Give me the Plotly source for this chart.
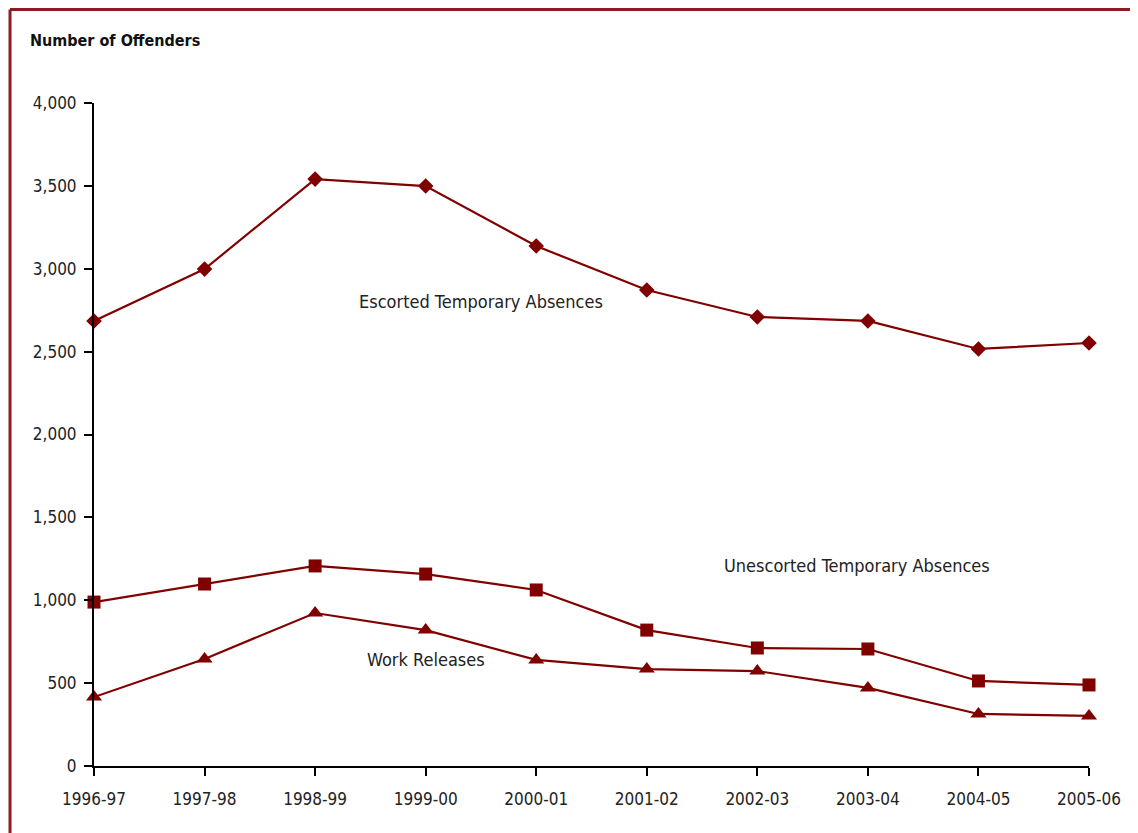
import plotly.graph_objects as go

years = ["1996-97", "1997-98", "1998-99", "1999-00", "2000-01",
         "2001-02", "2002-03", "2003-04", "2004-05", "2005-06"]
escorted = [2685, 2998, 3541, 3499, 3137, 2872, 2709, 2685, 2516, 2552]
unescorted = [989, 1098, 1207, 1158, 1062, 820, 712, 706, 513, 489]
work_releases = [416, 646, 923, 820, 640, 585, 573, 471, 314, 302]

FONT = "Liberation Sans Narrow, Arial Narrow, DejaVu Sans Condensed, sans-serif"
RED = "#800000"

fig = go.Figure()
for name, vals, sym, size in [
    ("Escorted Temporary Absences", escorted, "diamond", 12),
    ("Unescorted Temporary Absences", unescorted, "square", 13),
    ("Work Releases", work_releases, "triangle-up", 14),
]:
    fig.add_trace(go.Scatter(
        x=list(range(len(years))), y=vals, name=name, mode="lines+markers",
        line=dict(color=RED, width=2.2),
        marker=dict(symbol=sym, size=size, color=RED),
        cliponaxis=False, showlegend=False,
    ))

fig.add_annotation(x=3.5, y=2800, text="Escorted Temporary Absences", showarrow=False,
                   font=dict(family=FONT, size=18, color="#222"))
fig.add_annotation(x=6.9, y=1210, text="Unescorted Temporary Absences", showarrow=False,
                   font=dict(family=FONT, size=18, color="#222"))
fig.add_annotation(x=3.0, y=640, text="Work Releases", showarrow=False,
                   font=dict(family=FONT, size=18, color="#222"))

fig.add_annotation(xref="paper", yref="paper", x=-0.066, y=1.095, xanchor="left",
                   yanchor="middle", text="<b>Number of Offenders</b>", showarrow=False,
                   font=dict(family=FONT, size=16, color="#111"))

# border (top and left); top of plot at y=1, figure top 95px above (663px plot height)
top = 1 + 93.5 / 663
fig.add_shape(type="line", xref="paper", yref="paper", x0=-0.0844, x1=1.1, y0=top, y1=top,
              line=dict(color="#8E1B1F", width=3))
fig.add_shape(type="line", xref="paper", yref="paper", x0=-0.0844, x1=-0.0844, y0=-0.12, y1=top,
              line=dict(color="#8E1B1F", width=3))

fig.update_xaxes(
    range=[0, 9], tickmode="array", tickvals=list(range(len(years))), ticktext=years,
    showline=True, linecolor="black", linewidth=2, ticks="outside", ticklen=8,
    tickwidth=2, tickcolor="black", showgrid=False, zeroline=False,
    ticklabelstandoff=9,
    tickfont=dict(family=FONT, size=17, color="#222"),
)
fig.update_yaxes(
    range=[0, 4000], tickmode="array", tickvals=list(range(0, 4001, 500)),
    ticktext=[f"{v:,}" for v in range(0, 4001, 500)],
    showline=True, linecolor="black", linewidth=2, ticks="outside", ticklen=8,
    tickwidth=2, tickcolor="black", showgrid=False, zeroline=False,
    ticklabelstandoff=4,
    tickfont=dict(family=FONT, size=17, color="#222"),
)
fig.update_layout(
    width=1130, height=825, margin=dict(l=86, r=49, t=95, b=67),
    plot_bgcolor="white", paper_bgcolor="white",
)
fig.write_html("out.html")
